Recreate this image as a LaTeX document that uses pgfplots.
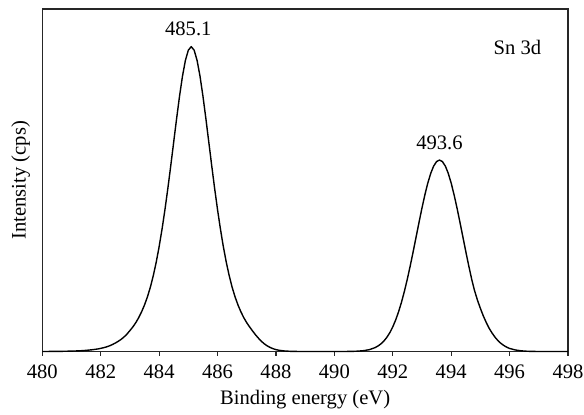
\documentclass[border=0pt]{standalone}
\usepackage{fontspec}
\setmainfont{Liberation Serif}
\usepackage{pgfplots}
\pgfplotsset{compat=1.18}

\begin{document}
\begin{tikzpicture}
\begin{axis}[
  scale only axis,
  width=262.9pt, height=171.3pt,
  xmin=480, xmax=498, ymin=0, ymax=1,
  xtick={480,482,...,498},
  ytick=\empty,
  xtick pos=left,
  tick align=outside,
  major tick length=2pt,
  axis line style={line width=0.6pt, black!85},
  every tick/.style={line width=0.6pt, black!85},
  /pgf/number format/assume math mode=true,
  /pgf/number format/1000 sep={},
  tick label style={font=\fontsize{10.3}{12}\selectfont},
  xticklabel style={anchor=base, yshift=-11.6pt},
  xlabel={Binding energy (eV)},
  ylabel={Intensity (cps)},
  label style={font=\fontsize{10.3}{12}\selectfont},
  xlabel style={at={(axis description cs:0.5,0)}, anchor=base, yshift=-26.7pt},
  ylabel style={at={([xshift=-2.6pt]axis description cs:0,0.5)}, anchor=south},
  clip=false,
]
% Sn 3d spectrum: 3d5/2 and 3d3/2 components
\addplot[black, line width=0.7pt, line join=round] coordinates {
(480.0,0.0001) (480.5,0.0004) (480.8,0.0008) (481.1,0.0015) (481.3,0.0022)
(481.5,0.0034) (481.7,0.0051) (481.9,0.0075) (482.0,0.0092) (482.1,0.0112)
(482.2,0.0136) (482.3,0.0166) (482.4,0.0204) (482.5,0.0248) (482.6,0.0298)
(482.7,0.0356) (482.8,0.0426) (482.9,0.0511) (483.0,0.0611) (483.1,0.0717)
(483.2,0.0841) (483.3,0.0987) (483.4,0.1159) (483.5,0.1360) (483.6,0.1596)
(483.7,0.1878) (483.8,0.2213) (483.9,0.2605) (484.0,0.3058) (484.1,0.3572)
(484.2,0.4144) (484.3,0.4768) (484.4,0.5433) (484.5,0.6121) (484.6,0.6807)
(484.7,0.7460) (484.8,0.8039) (484.9,0.8499) (485.0,0.8797) (485.1,0.8900)
(485.2,0.8797) (485.3,0.8499) (485.4,0.8039) (485.5,0.7460) (485.6,0.6807)
(485.7,0.6121) (485.8,0.5433) (485.9,0.4768) (486.0,0.4144) (486.1,0.3572)
(486.2,0.3058) (486.3,0.2605) (486.4,0.2213) (486.5,0.1878) (486.6,0.1596)
(486.7,0.1360) (486.8,0.1159) (486.9,0.0987) (487.0,0.0841) (487.1,0.0717)
(487.2,0.0600) (487.3,0.0490) (487.4,0.0390) (487.5,0.0300) (487.6,0.0226)
(487.7,0.0166) (487.8,0.0119) (487.9,0.0083) (488.0,0.0056) (488.1,0.0037)
(488.3,0.0016) (488.5,0.0006) (488.8,0.0001) (489.5,0)
(490.2,0) (490.6,0.0004) (490.8,0.0011) (491.0,0.0025) (491.2,0.0055)
(491.4,0.0116) (491.5,0.0165) (491.6,0.0227) (491.7,0.0310) (491.8,0.0417)
(491.9,0.0552) (492.0,0.0719) (492.1,0.0922) (492.2,0.1163) (492.3,0.1443)
(492.4,0.1764) (492.5,0.2120) (492.6,0.2509) (492.7,0.2921) (492.8,0.3348)
(492.9,0.3775) (493.0,0.4190) (493.1,0.4575) (493.2,0.4918) (493.3,0.5201)
(493.4,0.5414) (493.5,0.5545) (493.6,0.5590)
(493.7,0.5545) (493.8,0.5414) (493.9,0.5201) (494.0,0.4918) (494.1,0.4575)
(494.2,0.4190) (494.3,0.3775) (494.4,0.3348) (494.5,0.2921) (494.6,0.2509)
(494.7,0.2120) (494.8,0.1780) (494.9,0.1500) (495.0,0.1260) (495.1,0.1040)
(495.2,0.0850) (495.3,0.0680) (495.4,0.0540) (495.5,0.0420) (495.6,0.0320)
(495.7,0.0240) (495.8,0.0178) (495.9,0.0128) (496.0,0.0090) (496.2,0.0045)
(496.4,0.0020) (496.6,0.0008) (497.0,0) (498.0,0)
};
\node[anchor=base, font=\fontsize{10.3}{12}\selectfont] at (axis cs:485.0,0.924) {485.1};
\node[anchor=base, font=\fontsize{10.3}{12}\selectfont] at (axis cs:493.6,0.590) {493.6};
\node[anchor=base, font=\fontsize{10.3}{12}\selectfont] at (axis cs:496.27,0.866) {Sn 3d};
\coordinate (bl) at (rel axis cs:0,0);
\coordinate (tr) at (rel axis cs:1,1);
\end{axis}
\pgfresetboundingbox
\path[use as bounding box] ([shift={(-21.15pt,-31.65pt)}]bl) rectangle ([shift={(8pt,4.5pt)}]tr);
\end{tikzpicture}
\end{document}
